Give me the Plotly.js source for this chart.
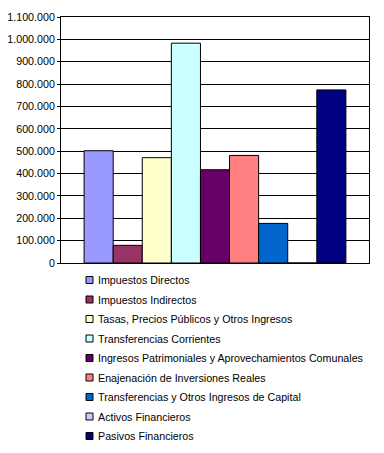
<!DOCTYPE html>
<html><head><meta charset="utf-8">
<script src="https://cdn.plot.ly/plotly-3.0.1.min.js"></script>
<style>html,body{margin:0;padding:0;background:#fff}</style>
</head><body>
<div id="chart" style="width:384px;height:453px"></div>
<script>
const categories = ["Impuestos Directos","Impuestos Indirectos","Tasas, Precios Públicos y Otros Ingresos","Transferencias Corrientes","Ingresos Patrimoniales y Aprovechamientos Comunales","Enajenación de Inversiones Reales","Transferencias y Otros Ingresos de Capital","Activos Financieros","Pasivos Financieros"];
const values = [502000, 79000, 471000, 983000, 417000, 481000, 177000, 0, 774000];
const colors = ["#9999FF","#993366","#FFFFCC","#CCFFFF","#660066","#FF8080","#0066CC","#CCCCFF","#000080"];
const yTicks = [0,100000,200000,300000,400000,500000,600000,700000,800000,900000,1000000,1100000];

const W = 384, H = 453, M = {l:61, r:15, t:17, b:190};
const pw = W - M.l - M.r, ph = H - M.t - M.b;
const px2x = px => (px - M.l) / pw;
const px2y = py => (H - M.b - py) / ph;

const traces = categories.map((c,i)=>({type:'bar', x:['g'], y:[values[i]], name:c, showlegend:false,
    marker:{color:colors[i], line:{color:'#000', width:1}}, hoverinfo:'none'}));

// custom legend (Excel style) built from categories/colors
const legTop = 280, legStep = 19.5, sqL = 86, sqS = 7, txtL = 95.5;
const shapes = [], annotations = [];
categories.forEach((c,i)=>{
  const cy = legTop + i*legStep;
  shapes.push({type:'rect', xref:'paper', yref:'paper',
    x0:px2x(sqL), x1:px2x(sqL+sqS), y0:px2y(cy+sqS/2), y1:px2y(cy-sqS/2),
    fillcolor:colors[i], line:{color:'#000', width:1}});
  annotations.push({xref:'paper', yref:'paper', x:px2x(txtL), y:px2y(cy), xanchor:'left', yanchor:'middle',
    text:c, showarrow:false, font:{size:10.7, color:'#000'}, xshift:0});
});

const layout = {
  width:W, height:H,
  margin:{l:M.l, r:M.r, t:M.t, b:M.b, autoexpand:false},
  paper_bgcolor:'#fff', plot_bgcolor:'#fff',
  font:{family:'"Liberation Sans", Arial, sans-serif', size:10.7, color:'#000'},
  separators:',.',
  barmode:'group', bargap:0.15, bargroupgap:0,
  xaxis:{showticklabels:false, ticks:'', showgrid:false, zeroline:false,
    showline:true, linecolor:'#000', linewidth:1, mirror:true, fixedrange:true},
  yaxis:{range:[0,1100000], tickvals:yTicks, tickformat:',d', ticks:'outside', ticklen:3,
    tickcolor:'#000', showgrid:true, gridcolor:'#000', gridwidth:1, zeroline:false,
    showline:true, linecolor:'#000', linewidth:1, mirror:true, fixedrange:true, automargin:false},
  showlegend:false,
  shapes:shapes, annotations:annotations
};
Plotly.newPlot('chart', traces, layout, {staticPlot:true, displayModeBar:false});
</script>
</body></html>
